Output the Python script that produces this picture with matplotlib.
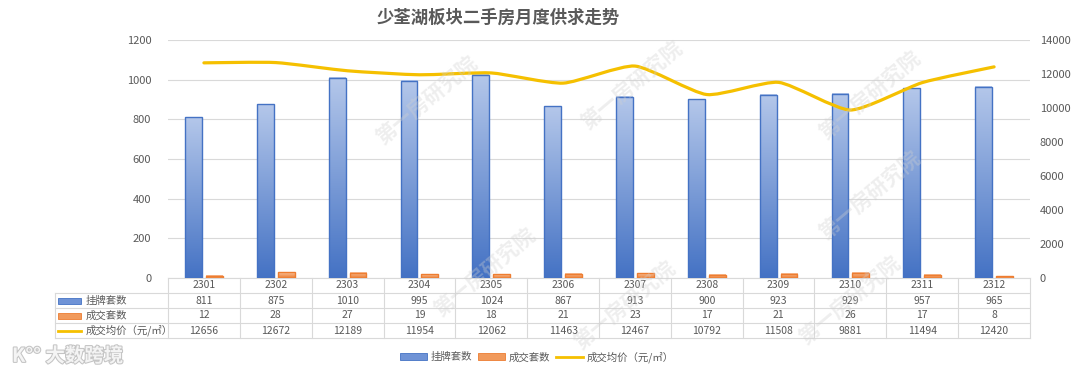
import numpy as np
import matplotlib
matplotlib.use("Agg")
from matplotlib import pyplot as plt
from matplotlib.path import Path
from matplotlib.patches import PathPatch, Rectangle
from matplotlib.lines import Line2D
from matplotlib.colors import LinearSegmentedColormap
import matplotlib.patheffects as pe

plt.rcParams['font.family'] = ['Noto Sans CJK SC', 'DejaVu Sans']

months = ['2301', '2302', '2303', '2304', '2305', '2306',
          '2307', '2308', '2309', '2310', '2311', '2312']
listed = [811, 875, 1010, 995, 1024, 867, 913, 900, 923, 929, 957, 965]
deals = [12, 28, 27, 19, 18, 21, 23, 17, 21, 26, 17, 8]
price = [12656, 12672, 12189, 11954, 12062, 11463, 12467, 10792, 11508, 9881, 11494, 12420]

series_names = ['挂牌套数', '成交套数', '成交均价（元/㎡）']
title = '少荃湖板块二手房月度供求走势'

W, H = 1080, 375
fig = plt.figure(figsize=(W / 100, H / 100), dpi=100)

# plot area in pixels
L, R, T, B = 168, 1030, 40, 278
ax = fig.add_axes([L / W, 1 - B / H, (R - L) / W, (B - T) / H])
ax2 = ax.twinx()

grey = '#595959'
blue_cm = LinearSegmentedColormap.from_list('b', ['#4472c4', '#b4c7ea'])
orange_cm = LinearSegmentedColormap.from_list('o', ['#ed7d31', '#f8c4a0'])
grad = np.linspace(0, 1, 256).reshape(-1, 1)

x = np.arange(len(months))
bw = 0.235
off = 0.145

def grad_bars(xs, vals, cmap, edge):
    bars = ax.bar(xs, vals, bw, facecolor='none', edgecolor=edge, linewidth=1.0, zorder=4)
    for b in bars:
        x0, y0 = b.get_x(), b.get_y()
        ax.imshow(grad, cmap=cmap, origin='lower', aspect='auto',
                  extent=[x0, x0 + b.get_width(), y0, y0 + b.get_height()], zorder=3)
    return bars

grad_bars(x - off, listed, blue_cm, '#4472c4')
grad_bars(x + off, deals, orange_cm, '#ed7d31')

ax.set_xlim(-0.5, len(months) - 0.5)
ax.set_ylim(0, 1200)
ax.set_yticks(range(0, 1201, 200))
ax.grid(axis='y', color='#d9d9d9', linewidth=0.8, zorder=0)
ax.set_axisbelow(True)
ax.set_xticks([])
for s in ax.spines.values():
    s.set_visible(False)
ax.tick_params(axis='y', length=0, labelsize=8, labelcolor=grey, pad=12)

# lightly smoothed price line through the points
pts = np.column_stack([x, price]).astype(float)
verts = [pts[0]]
codes = [Path.MOVETO]
for i in range(len(pts) - 1):
    p0 = pts[max(i - 1, 0)]
    p1 = pts[i]
    p2 = pts[i + 1]
    p3 = pts[min(i + 2, len(pts) - 1)]
    c1 = p1 + (p2 - p0) / 10.0
    c2 = p2 - (p3 - p1) / 10.0
    verts += [c1, c2, p2]
    codes += [Path.CURVE4] * 3
ax2.add_patch(PathPatch(Path(verts, codes), facecolor='none', edgecolor='#f5c000',
                        linewidth=2.3, capstyle='round', joinstyle='round', zorder=5))
ax2.set_ylim(0, 14000)
ax2.set_yticks(range(0, 14001, 2000))
for s in ax2.spines.values():
    s.set_visible(False)
ax2.tick_params(axis='y', length=0, labelsize=8, labelcolor=grey, pad=7)

# data table under the plot
def fy(py):
    return (B - py) / (B - T)

def fx(px):
    return (px - L) / (R - L)

rows = [278, 293, 308, 323, 338]
tcol = '#d9d9d9'
xt = ax.get_xaxis_transform()
kw = dict(color=tcol, linewidth=0.8, clip_on=False, zorder=1)
ax.add_line(Line2D([0, 1], [fy(rows[0])] * 2, transform=ax.transAxes, **kw))
for r in rows[1:]:
    ax.add_line(Line2D([fx(55), 1], [fy(r)] * 2, transform=ax.transAxes, **kw))
ax.add_line(Line2D([fx(55)] * 2, [fy(rows[1]), fy(rows[-1])], transform=ax.transAxes, **kw))
for i in range(len(months) + 1):
    ax.add_line(Line2D([i - 0.5] * 2, [fy(rows[0]), fy(rows[-1])], transform=xt, **kw))

tkw = dict(ha='center', va='center', fontsize=7.5, color=grey, transform=xt, clip_on=False)
for i in range(len(months)):
    ax.text(x[i], fy(285.5), months[i], **tkw)
    ax.text(x[i], fy(300.5), str(listed[i]), **tkw)
    ax.text(x[i], fy(315.5), str(deals[i]), **tkw)
    ax.text(x[i], fy(330.5), str(price[i]), **tkw)

keys = [('#6f93d6', '#4472c4'), ('#f19a5c', '#ed7d31'), (None, '#f5c000')]
for k, (name, (fc, ec)) in enumerate(zip(series_names, keys)):
    yc = fy(300.5 + 15 * k)
    if fc:
        ax.add_patch(Rectangle((fx(58), yc - 3 / 238), fx(81) - fx(58), 6 / 238,
                               facecolor=fc, edgecolor=ec, linewidth=0.6,
                               transform=ax.transAxes, clip_on=False))
    else:
        ax.add_line(Line2D([fx(58), fx(81)], [yc, yc], color=ec, linewidth=2,
                           transform=ax.transAxes, clip_on=False))
    ax.text(fx(86), yc, name, ha='left', va='center', fontsize=7.5, color=grey,
            transform=ax.transAxes, clip_on=False)

# bottom legend
handles = [Rectangle((0, 0), 1, 1, facecolor='#6f93d6', edgecolor='#4472c4', linewidth=0.6),
           Rectangle((0, 0), 1, 1, facecolor='#f19a5c', edgecolor='#ed7d31', linewidth=0.6),
           Line2D([], [], color='#f5c000', linewidth=2)]
leg = fig.legend(handles, series_names, loc='center', bbox_to_anchor=(537 / W, 1 - 357 / H),
                 ncol=3, frameon=False, fontsize=7.5, handlelength=2.6, handleheight=0.6,
                 handletextpad=0.3, columnspacing=0.6)
for t in leg.get_texts():
    t.set_color(grey)

fig.text(498 / W, 1 - 18 / H, title, ha='center', va='center', fontsize=12.5,
         fontweight='bold', color=grey)

# watermark
for wx, wy in [(427, 100), (632, 85), (870, 95), (870, 195), (485, 272), (625, 305), (850, 300)]:
    fig.text(wx / W, 1 - wy / H, '第一房研究院', ha='center', va='center', fontsize=15,
             fontweight='bold', rotation=40, color='#d0d0d0', alpha=0.35, zorder=10)

# logo bottom left
fig.text(12 / W, 1 - 356 / H, 'K°° 大数跨境', ha='left', va='center', fontsize=14,
         fontweight='bold', color='#f4f4f4',
         path_effects=[pe.withStroke(linewidth=1.5, foreground='#c4c4c4')])

fig.savefig('out.png', dpi=100, facecolor='white')
